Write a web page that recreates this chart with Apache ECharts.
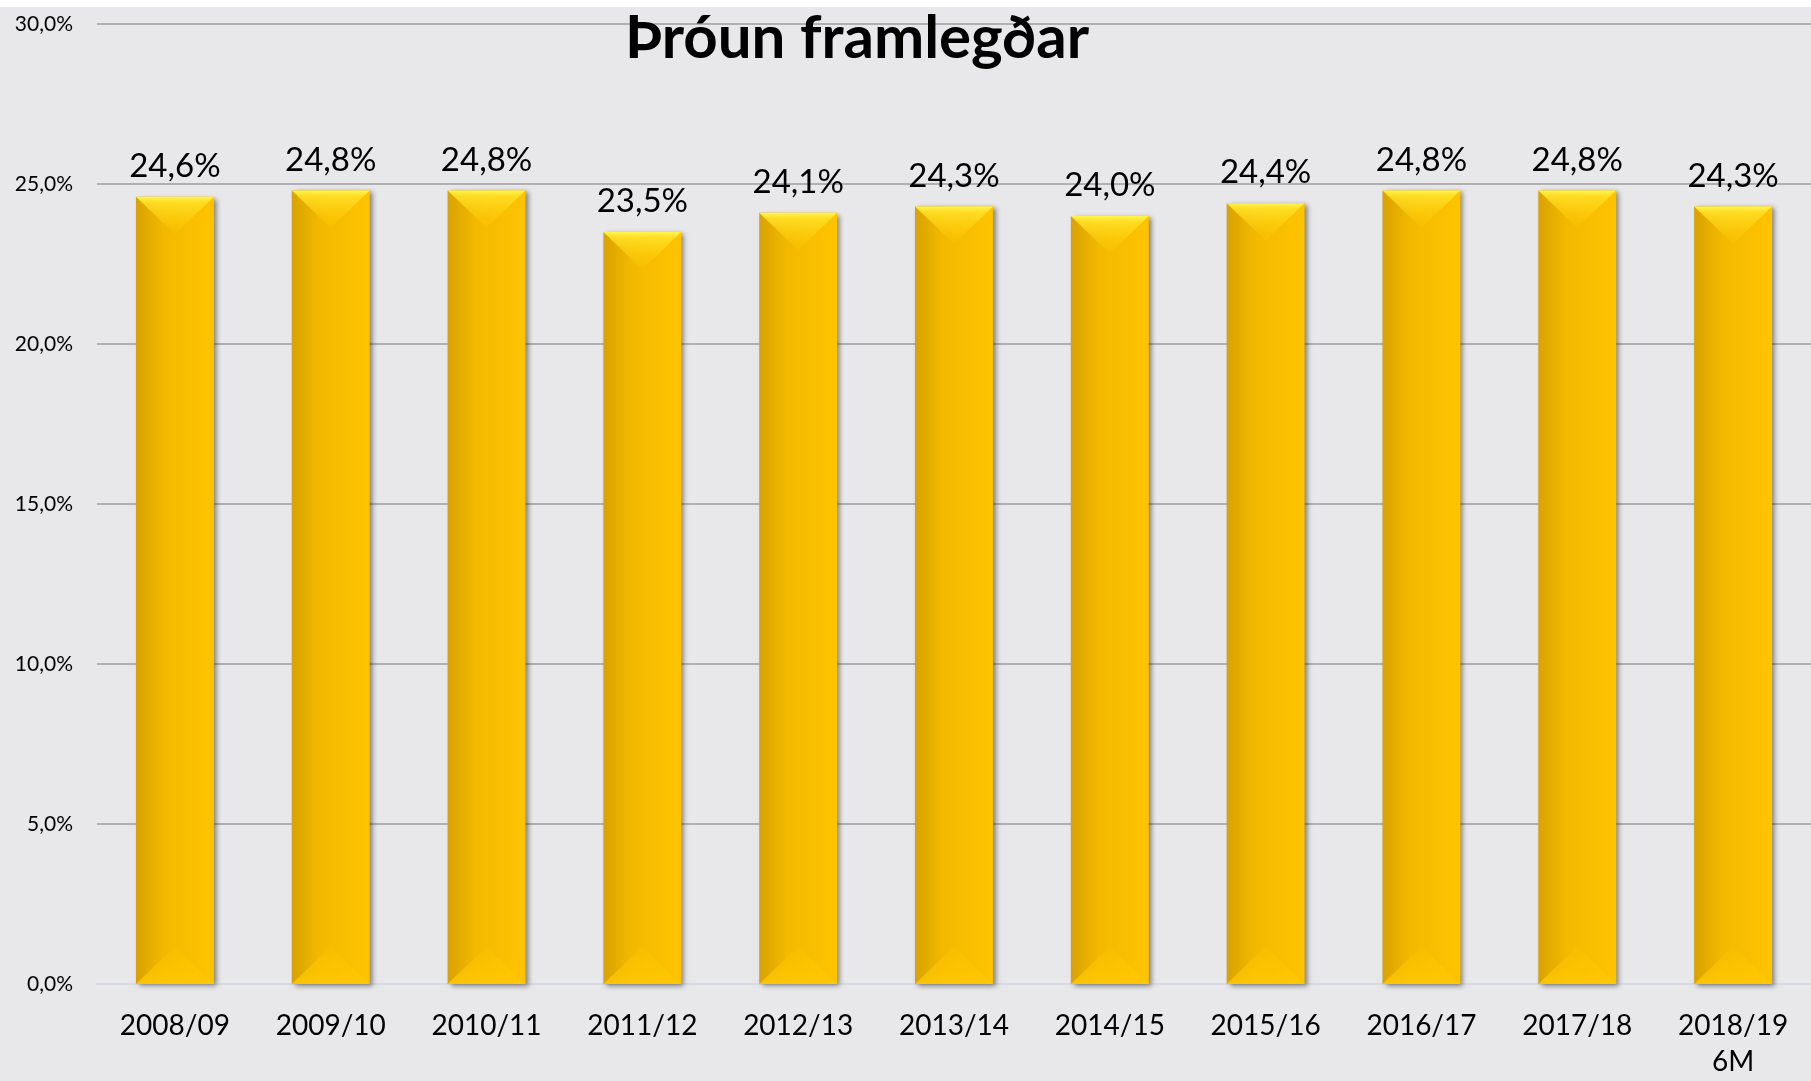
<!DOCTYPE html>
<html>
<head>
<meta charset="utf-8">
<script src="https://cdn.jsdelivr.net/npm/echarts@6/dist/echarts.min.js"></script>
<style>
  html, body { margin: 0; padding: 0; background: #e8e8ea; }
  #chart { width: 1811px; height: 1081px; }
</style>
</head>
<body>
<div id="chart"></div>
<script>
// gögn
var categories = ['2008/09', '2009/10', '2010/11', '2011/12', '2012/13', '2013/14',
  '2014/15', '2015/16', '2016/17', '2017/18', '2018/19\n6M'];
var values = [24.6, 24.8, 24.8, 23.5, 24.1, 24.3, 24.0, 24.4, 24.8, 24.8, 24.3];
var yTicks = [0, 5, 10, 15, 20, 25, 30];

function pct(v) {
  return v.toFixed(1).replace('.', ',') + '%';
}

var myChart = echarts.init(document.getElementById('chart'));

var option = {
  backgroundColor: '#e8e8ea',
  animation: false,
  textStyle: { fontFamily: 'Lato' },
  title: {
    text: 'Þróun framlegðar',
    left: 852,
    textAlign: 'center',
    top: 4,
    textStyle: { fontFamily: 'Lato', fontSize: 60, fontWeight: 'bold', color: '#000' }
  },
  graphic: [{
    type: 'rect', left: 0, top: 0, shape: { width: 1811, height: 7 },
    style: { fill: '#ffffff' }, z: 100
  }],
  grid: { left: 97, top: 24, width: 1717, height: 960 },
  xAxis: {
    type: 'category',
    data: categories,
    axisTick: { show: false },
    axisLine: { lineStyle: { color: '#d6dae2', width: 2 } },
    axisLabel: {
      color: '#000', fontSize: 28, lineHeight: 36, margin: 24, interval: 0
    }
  },
  yAxis: {
    type: 'value',
    min: yTicks[0],
    max: yTicks[yTicks.length - 1],
    interval: 5,
    axisLine: { show: false },
    axisTick: { show: false },
    splitLine: { lineStyle: { color: '#9e9ea0', width: 1.5 } },
    axisLabel: {
      color: '#000', fontSize: 21, margin: 24,
      formatter: function (v) { return pct(v); }
    }
  },
  series: [
    {
      type: 'bar',
      data: values,
      barWidth: '50%',
      itemStyle: {
        color: new echarts.graphic.LinearGradient(0, 0, 1, 0, [
          { offset: 0, color: '#d9a200' },
          { offset: 0.35, color: '#f2b900' },
          { offset: 1, color: '#ffc300' }
        ]),
        shadowColor: 'rgba(0,0,0,0.45)',
        shadowBlur: 5,
        shadowOffsetX: 3,
        shadowOffsetY: 2
      },
      label: {
        show: true,
        position: 'top',
        distance: 14,
        color: '#000',
        fontSize: 33,
        formatter: function (p) { return pct(p.value); }
      },
      z: 2
    },
    {
      // skásnið efst og neðst á súlum
      type: 'custom',
      z: 3,
      silent: true,
      renderItem: function (params, api) {
        var top = api.coord([api.value(0), api.value(1)]);
        var base = api.coord([api.value(0), 0]);
        var w = api.size([1, 0])[0] * 0.5;
        var x0 = top[0] - w / 2, x1 = top[0] + w / 2, xc = top[0];
        var d = w * 0.48;
        return {
          type: 'group',
          children: [
            {
              type: 'polygon',
              shape: { points: [[x0, top[1]], [x1, top[1]], [xc, top[1] + d]] },
              style: {
                fill: new echarts.graphic.LinearGradient(0, 0, 0, 1, [
                  { offset: 0, color: 'rgba(255,245,80,1)' },
                  { offset: 0.15, color: 'rgba(255,225,40,0.9)' },
                  { offset: 1, color: 'rgba(255,200,0,0.2)' }
                ])
              }
            },
            {
              type: 'polygon',
              shape: { points: [[x0, base[1]], [x1, base[1]], [xc, base[1] - d]] },
              style: {
                fill: new echarts.graphic.LinearGradient(0, 0, 0, 1, [
                  { offset: 0, color: 'rgba(255,200,0,0.2)' },
                  { offset: 1, color: 'rgba(255,200,0,0.9)' }
                ])
              }
            }
          ]
        };
      },
      encode: { x: 0, y: 1 },
      data: values.map(function (v, i) { return [i, v]; })
    }
  ]
};

myChart.setOption(option);
</script>
</body>
</html>
